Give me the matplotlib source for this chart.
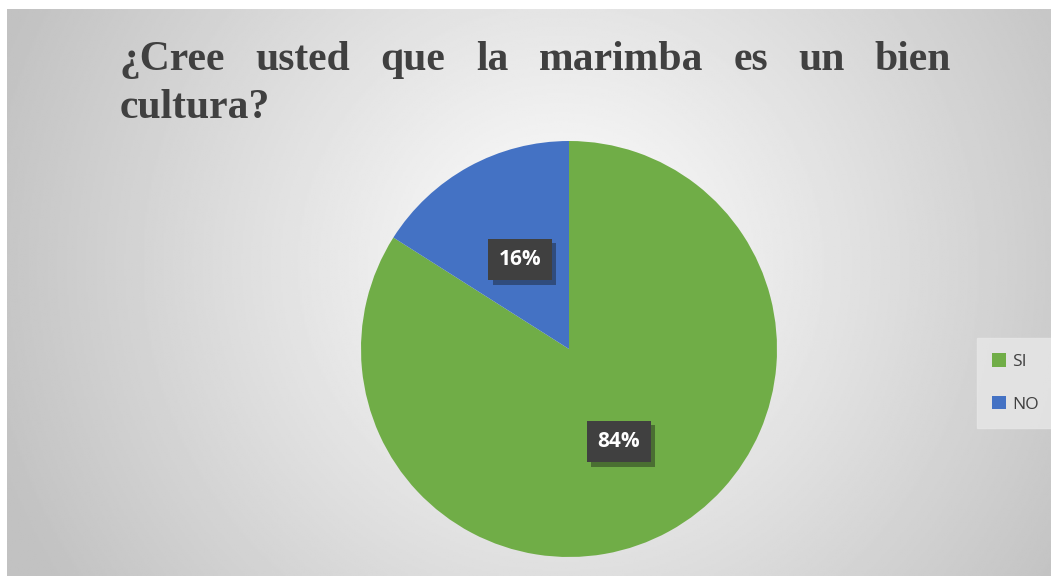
import matplotlib
matplotlib.use("Agg")
import matplotlib.pyplot as plt
import matplotlib.patheffects as pe
import numpy as np

categories = ["SI", "NO"]
values = [84, 16]
colors = ["#70AD47", "#4472C4"]
title_line1 = "¿Cree usted que la marimba es un bien"
title_line2 = "cultura?"

W, H = 1051, 576
fig = plt.figure(figsize=(W / 100, H / 100), dpi=100)
fig.patch.set_facecolor("white")

# background with radial gradient
bg = fig.add_axes([7 / W, 0, 1 - 7 / W, 1 - 9 / H])
yy, xx = np.mgrid[0:300, 0:600]
cx, cy = 0.53 * 600, 0.45 * 300
r = np.sqrt(((xx - cx) / 600) ** 2 + ((yy - cy) / 300 * 0.55) ** 2)
shade = np.clip(1.0 - r * 0.42, 0.76, 1.0)
bg.imshow(shade, cmap="gray", vmin=0, vmax=1, aspect="auto", extent=[0, 1, 0, 1])
bg.set_xlim(0, 1)
bg.set_ylim(0, 1)
bg.axis("off")

# title, justified first line
fig.canvas.draw()
renderer = fig.canvas.get_renderer()
words = title_line1.split()
tfont = dict(family="Liberation Serif", weight="bold", size=30, color="#404040")
texts = [fig.text(0, 0, w, **tfont) for w in words]
widths = [t.get_window_extent(renderer).width for t in texts]
x0, x1 = 120, 951
gap = (x1 - x0 - sum(widths)) / (len(words) - 1)
x = x0
for t, w in zip(texts, widths):
    t.set_position((x / W, 1 - 70 / H))
    x += w + gap
fig.text(x0 / W, 1 - 118 / H, title_line2, **tfont)

# pie
R = 208
pcx, pcy = 569, 349
ax = fig.add_axes([(pcx - R) / W, 1 - (pcy + R) / H, 2 * R / W, 2 * R / H])
wedges, _ = ax.pie(values, colors=colors, startangle=90, counterclock=False,
                   wedgeprops=dict(linewidth=0))
ax.set_aspect("equal")
ax.set_xlim(-1, 1)
ax.set_ylim(-1, 1)

label_pos = [(0.24, -0.445), (-0.235, 0.43)]
for v, (lx, ly) in zip(values, label_pos):
    ax.text(lx, ly, f"{v}%", ha="center", va="center", color="white",
            fontsize=15, fontweight="bold", family="Open Sans",
            bbox=dict(boxstyle="square,pad=0.5", facecolor="#404040",
                      edgecolor="none",
                      path_effects=[pe.SimplePatchShadow(offset=(3, -3), alpha=0.4),
                                    pe.Normal()]))

# legend
leg = fig.legend(wedges, categories, loc="center left",
                 bbox_to_anchor=(968 / W, 1 - 383 / H), frameon=True,
                 fancybox=False, handlelength=0.8, handleheight=0.8,
                 handletextpad=0.35, labelspacing=1.5, borderpad=0.9,
                 prop=dict(family="Open Sans", size=12.5))
leg.get_frame().set_facecolor("#E6E6E6")
leg.get_frame().set_edgecolor("#E6E6E6")
leg.get_frame().set_alpha(0.85)
for t in leg.get_texts():
    t.set_color("#404040")

fig.savefig("out.png", dpi=100)
